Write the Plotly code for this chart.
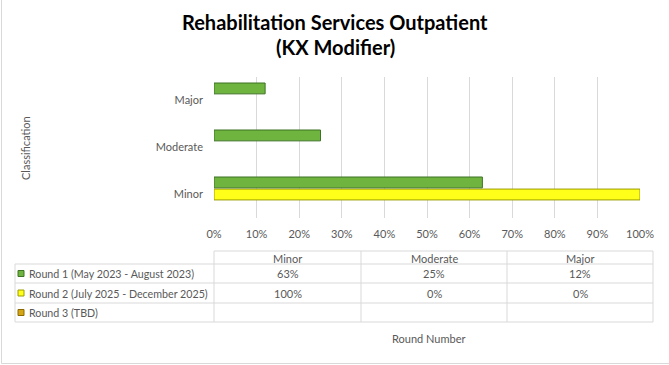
import plotly.graph_objects as go

categories = ["Minor", "Moderate", "Major"]
series_names = ["Round 1 (May 2023 - August 2023)",
                "Round 2 (July 2025 - December 2025)",
                "Round 3 (TBD)"]
round1 = [0.63, 0.25, 0.12]
round2 = [1.00, 0.00, 0.00]
round3 = [None, None, None]
x_ticks = [i / 10 for i in range(11)]

W, H = 669, 365
def px(x): return x / W
def py(y): return 1 - y / H

fill_colors = ["#6fb43f", "#ffff1a", "#d4a514"]
line_colors = ["#3d7324", "#9c9c00", "#8a6a00"]
all_series = [round1, round2, round3]

fig = go.Figure()
# Excel places series 1 on top within each group; plotly draws first trace lowest
for i in [2, 1, 0]:
    vals = all_series[i]
    fig.add_trace(go.Bar(
        y=categories, x=vals, orientation="h", name=series_names[i],
        marker=dict(color=fill_colors[i],
                    line=dict(color=line_colors[i], width=[1 if v else 0 for v in vals])),
        showlegend=False, hoverinfo="x+y",
    ))

grey = "#595959"
font = "Lato, Liberation Sans, sans-serif"
fig.update_layout(
    width=W, height=H, autosize=False, margin=dict(l=0, r=0, t=0, b=0, pad=0),
    paper_bgcolor="white", plot_bgcolor="white",
    barmode="group", bargap=0.23, bargroupgap=0.1,
    font=dict(family=font, size=11, color=grey),
    xaxis=dict(domain=[px(214), px(640)], range=[0, 1], tickvals=x_ticks,
               tickformat=".0%", showgrid=True, gridcolor="#d9d9d9", gridwidth=1,
               zeroline=False, showline=False, ticks="", ticklabelstandoff=8,
               automargin=False, tickfont=dict(size=11, color=grey)),
    yaxis=dict(domain=[py(218), py(77)], categoryorder="array", categoryarray=categories,
               showgrid=False, zeroline=False, showline=False, ticks="",
               automargin=False, ticklabelstandoff=10, tickfont=dict(size=11, color=grey)),
)

shapes = []
anns = []
def text(x, y, t, size=11, color=grey, xanchor="center", angle=0):
    anns.append(dict(x=px(x), y=py(y), xref="paper", yref="paper", showarrow=False,
                     xanchor=xanchor, yanchor="middle", text=t, textangle=angle,
                     font=dict(family=font, size=size, color=color)))

# Title
text(335, 22, "<b>Rehabilitation Services Outpatient</b>", size=20, color="black")
text(335, 47, "<b>(KX Modifier)</b>", size=20, color="black")
# Axis titles
text(25, 148, "Classification", angle=-90)
text(428, 338, "Round Number")

# Data table
tcol = "#d9d9d9"
col_x = [214, 361, 507, 653]
row_y = [251, 264, 283, 303, 322]
left_x = 15
def line(x0, y0, x1, y1):
    shapes.append(dict(type="line", xref="paper", yref="paper",
                       x0=px(x0), y0=py(y0), x1=px(x1), y1=py(y1),
                       line=dict(color=tcol, width=1)))
line(col_x[0], row_y[0], col_x[-1], row_y[0])
for y in row_y[1:]:
    line(left_x, y, col_x[-1], y)
for x in col_x:
    line(x, row_y[0], x, row_y[-1])
line(left_x, row_y[1], left_x, row_y[-1])

for j, c in enumerate(categories):
    cx = (col_x[j] + col_x[j + 1]) / 2
    text(cx, (row_y[0] + row_y[1]) / 2 + 1, c)
for i, name in enumerate(series_names):
    yc = (row_y[i + 1] + row_y[i + 2]) / 2
    shapes.append(dict(type="rect", xref="paper", yref="paper",
                       x0=px(18), x1=px(24), y0=py(yc - 3), y1=py(yc + 3),
                       fillcolor=fill_colors[i], line=dict(color=line_colors[i], width=1)))
    text(27, yc, name, size=10.7, xanchor="left")
    for j, v in enumerate(all_series[i]):
        if v is None:
            continue
        cx = (col_x[j] + col_x[j + 1]) / 2
        text(cx, yc, f"{round(v * 100)}%")

# chart border
shapes.append(dict(type="line", xref="paper", yref="paper", x0=px(1.5), x1=px(1.5),
                   y0=py(0), y1=py(363.5), line=dict(color=tcol, width=1)))
shapes.append(dict(type="line", xref="paper", yref="paper", x0=px(1.5), x1=px(669),
                   y0=py(363.5), y1=py(363.5), line=dict(color=tcol, width=1)))

fig.update_layout(shapes=shapes, annotations=anns)
fig.write_html("out.html", config={"responsive": False, "displayModeBar": False},
               post_script="document.body.style.margin='0';document.body.style.overflow='hidden';")
